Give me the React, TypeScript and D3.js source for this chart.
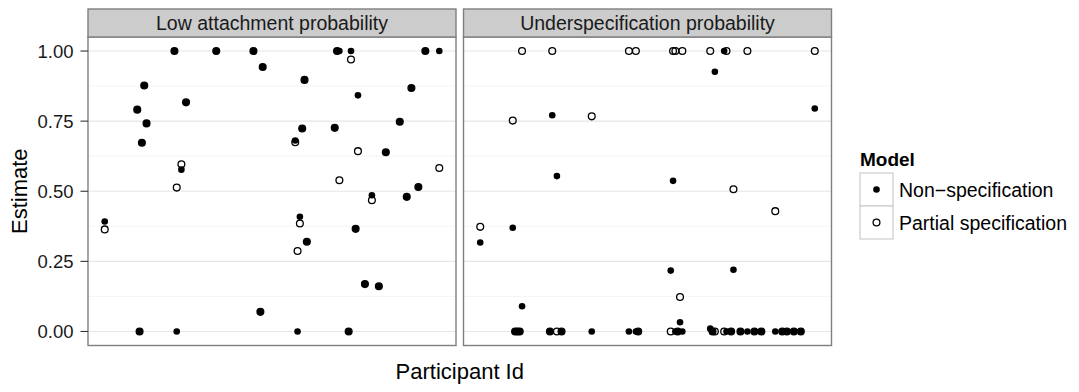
import React from "react";
import * as d3 from "d3";

// Participant ids (continuous x)
const participantIds = [1, 15, 16, 17, 18, 19, 31, 32, 34, 36, 49, 65, 68, 69, 83, 84, 85, 86, 87, 88, 100, 101, 102, 106, 107, 109, 110, 113, 116, 119, 122, 128, 131, 133, 136, 139, 145];

// Low attachment probability panel
const lowNon = [0.392, 0.791, 0, 0.673, 0.877, 0.742, 1, 0, 0.577, 0.817, 1, 1, 0.07, 0.943, 0.681, 0, 0.409, 0.724, 0.897, 0.32, 0.726, 1, 1, 0, 1, 0.366, 0.842, 0.169, 0.486, 0.161, 0.639, 0.748, 0.48, 0.868, 0.515, 1, 1];
const lowPartial = [0.364, 0.791, 0, 0.673, 0.877, 0.742, 1, 0.513, 0.596, 0.817, 1, 1, 0.07, 0.943, 0.675, 0.287, 0.385, 0.724, 0.897, 0.32, 0.726, 1, 0.539, 0, 0.97, 0.366, 0.643, 0.169, 0.468, 0.161, 0.639, 0.748, 0.48, 0.868, 0.515, 1, 0.583];

// Underspecification probability panel
const underNon = [0.317, 0.37, 0, 0, 0, 0.09, 0, 0.771, 0.554, 0, 0, 0, 0, 0, 0.217, 0.537, 0, 0, 0.033, 0, 0.01, 0, 0.926, 1, 0, 0, 0.22, 0, 0, 0, 0, 0, 0, 0, 0, 0, 0.795];
const underPartial = [0.373, 0.752, 0, 0, 0, 1, 0, 1, 0, 0, 0.767, 1, 1, 0, 0, 1, 1, 0, 0.123, 1, 1, 0, 0, 0, 1, 0, 0.507, 0, 1, 0, 0, 0.429, 0, 0, 0, 0, 1];

const panelTitles = ["Low attachment probability", "Underspecification probability"];
const yTicks = [0, 0.25, 0.5, 0.75, 1];
const yTickLabels = ["0.00", "0.25", "0.50", "0.75", "1.00"];
const yMinor = [0.125, 0.375, 0.625, 0.875];
const legendTitle = "Model";
const legendLabels = ["Non\u2212specification", "Partial specification"];
const xTitle = "Participant Id";
const yTitle = "Estimate";

const FONT = "'Liberation Sans', Arial, Helvetica, sans-serif";

export default function App() {
  const W = 1079, H = 392;
  const panelLefts = [88, 463.5];
  const panelW = 368;
  const top = 37, bottom = 345.5, stripTop = 9;

  const xMin = d3.min(participantIds) as number;
  const xMax = d3.max(participantIds) as number;
  const xPad = (xMax - xMin) * 0.05;
  const x = d3.scaleLinear().domain([xMin - xPad, xMax + xPad]).range([0, panelW]);
  const y = d3.scaleLinear().domain([-0.05, 1.05]).range([bottom, top]);

  const panels = [
    { title: panelTitles[0], non: lowNon, partial: lowPartial },
    { title: panelTitles[1], non: underNon, partial: underPartial },
  ];

  const rFilled = 3.3, rOpen = 3.4;
  const keySize = 33;
  const keyTop = 173;

  return (
    <svg width={W} height={H} style={{ position: "absolute", left: 0, top: 0, background: "#fff" }} fontFamily={FONT}>
      <rect x={0} y={0} width={W} height={H} fill="#fff" />
      {panels.map((p, pi) => {
        const L = panelLefts[pi];
        return (
          <g key={pi} transform={`translate(${L},0)`}>
            <rect x={0} y={top} width={panelW} height={bottom - top} fill="#fff" />
            {yMinor.map((t) => (
              <line key={"mi" + t} x1={0} x2={panelW} y1={y(t)} y2={y(t)} stroke="#f4f4f4" strokeWidth={1} />
            ))}
            {yTicks.map((t) => (
              <line key={"ma" + t} x1={0} x2={panelW} y1={y(t)} y2={y(t)} stroke="#e6e6e6" strokeWidth={1.1} />
            ))}
            {participantIds.map((id, i) => (
              <circle key={"o" + i} cx={x(id)} cy={y(p.partial[i])} r={rOpen} fill="none" stroke="#000" strokeWidth={1.3} />
            ))}
            {participantIds.map((id, i) => (
              <circle key={"f" + i} cx={x(id)} cy={y(p.non[i])} r={rFilled} fill="#000" />
            ))}
            <rect x={0} y={top} width={panelW} height={bottom - top} fill="none" stroke="#7f7f7f" strokeWidth={1.4} />
            <rect x={0} y={stripTop} width={panelW} height={top - stripTop} fill="#cccccc" stroke="#7f7f7f" strokeWidth={1.4} />
            <text x={panelW / 2} y={(stripTop + top) / 2} dy="0.36em" textAnchor="middle" fontSize={19.5} fill="#1a1a1a">
              {p.title}
            </text>
          </g>
        );
      })}
      {/* y axis */}
      {yTicks.map((t, i) => (
        <g key={"yt" + t}>
          <line x1={80.5} x2={88} y1={y(t)} y2={y(t)} stroke="#333" strokeWidth={1.1} />
          <text x={73.5} y={y(t)} dy="0.36em" textAnchor="end" fontSize={18.5} fill="#1a1a1a">
            {yTickLabels[i]}
          </text>
        </g>
      ))}
      <text transform={`translate(27,${(top + bottom) / 2}) rotate(-90)`} textAnchor="middle" fontSize={22} fill="#000">
        {yTitle}
      </text>
      <text x={(panelLefts[0] + panelLefts[1] + panelW) / 2} y={379} textAnchor="middle" fontSize={22} fill="#000">
        {xTitle}
      </text>
      {/* legend */}
      <text x={860} y={keyTop - 7} fontSize={19} fontWeight="bold" fill="#000">
        {legendTitle}
      </text>
      {legendLabels.map((lab, i) => {
        const ky = keyTop + i * keySize;
        return (
          <g key={lab}>
            <rect x={860} y={ky} width={keySize} height={keySize} fill="#fff" stroke="#cccccc" strokeWidth={1.2} />
            {i === 0 ? (
              <circle cx={860 + keySize / 2} cy={ky + keySize / 2} r={rFilled} fill="#000" />
            ) : (
              <circle cx={860 + keySize / 2} cy={ky + keySize / 2} r={rOpen} fill="none" stroke="#000" strokeWidth={1.3} />
            )}
            <text x={899} y={ky + keySize / 2} dy="0.36em" fontSize={19.5} fill="#000">
              {lab}
            </text>
          </g>
        );
      })}
    </svg>
  );
}
